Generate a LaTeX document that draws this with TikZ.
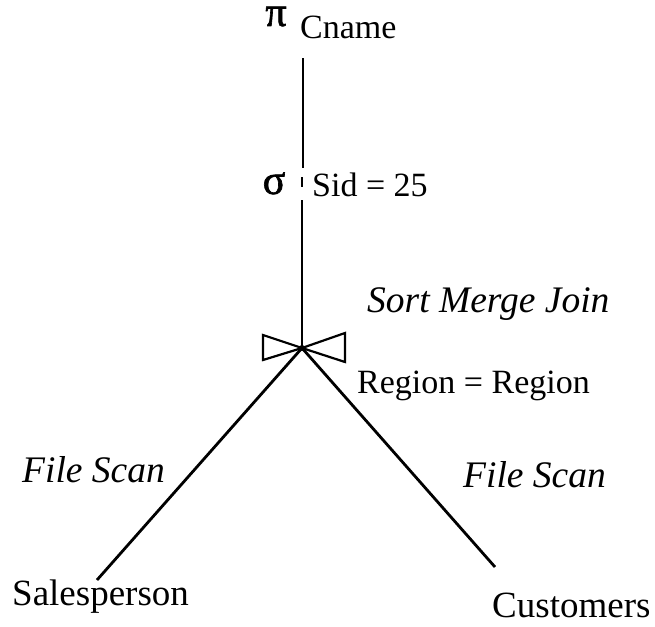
\documentclass[tikz,border=0pt]{standalone}
\usepackage{fontspec}
\setmainfont{Liberation Serif}
\newfontfamily\greekfont{Liberation Serif}[FakeBold=1.5]
\begin{document}
\begin{tikzpicture}[x=1pt,y=-1pt,
  lbl/.style={inner sep=0pt,anchor=base west,font=\fontsize{34}{40}\selectfont},
  leaf/.style={inner sep=0pt,anchor=base west,font=\fontsize{37}{44}\selectfont},
  ital/.style={inner sep=0pt,anchor=base west,font=\fontsize{37.5}{44}\selectfont\itshape},
  greek/.style={inner sep=0pt,anchor=base,font=\fontsize{42}{46}\greekfont},
  edge/.style={line width=2.8pt},
  tie/.style={line width=2.2pt,line join=miter}]
\useasboundingbox (0,0) rectangle (655,626);
% operators
\node[greek] (pi) at (276,26) {π};
\node[lbl] (cname) at (300,39) {Cname};
\node[greek] (sigma) at (274,194) {σ};
\node[lbl] (sid) at (312,196) {Sid = 25};
\node[ital] (smj) at (367,312) {Sort Merge Join};
\node[lbl] (reg) at (357,393) {Region = Region};
\node[ital] (fs1) at (22,482) {File Scan};
\node[ital] (fs2) at (463,487) {File Scan};
\node[leaf] (sales) at (12,605) {Salesperson};
\node[leaf] (cust) at (492,617) {Customers};
% connector points
\coordinate (pibot) at (303,58);
\coordinate (sigtop) at (303,168);
\coordinate (ticka) at (302,177);
\coordinate (tickb) at (302,187);
\coordinate (sigbot) at (302,200);
\coordinate (j) at (302,348);
\coordinate (salestop) at (97,580);
\coordinate (custtop) at (495,567);
% connectors
\draw[edge] (pibot) -- (sigtop);
\draw[edge] (ticka) -- (tickb);
\draw[edge] (sigbot) -- (j);
\draw[edge] (j) -- (salestop);
\draw[edge] (j) -- (custtop);
% join symbol (bowtie)
\draw[tie] (j) -- ++(-39,-13) -- ++(0,25) -- cycle;
\draw[tie] (j) -- ++(43,-15) -- ++(0,29) -- cycle;
\fill (j) circle (3pt);
\end{tikzpicture}
\end{document}
